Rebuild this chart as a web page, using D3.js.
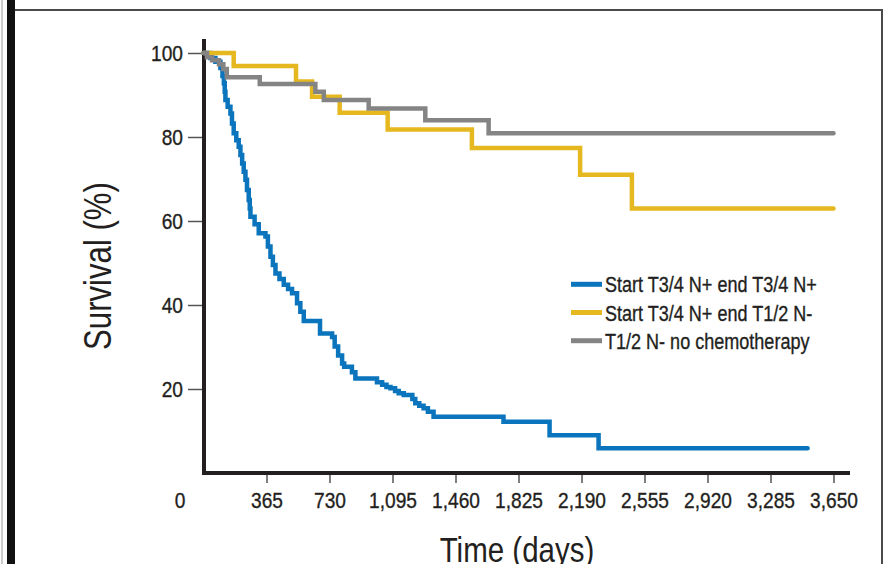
<!DOCTYPE html>
<html>
<head>
<meta charset="utf-8">
<script src="https://cdn.jsdelivr.net/npm/d3@7"></script>
<style>
  html, body { margin: 0; padding: 0; background: #ffffff; }
  svg { display: block; }
  text { font-family: "Liberation Sans", Arial, sans-serif; fill: #231f20; }
  .heavy { stroke: #231f20; stroke-width: 0.35px; }
</style>
</head>
<body>
<script>
// survival curves: [day of drop, survival % after drop]
var blueSteps = [
  [0, 100], [40, 98.8], [69, 97.9], [98, 96.4], [110, 94.5], [118, 92.8], [123, 90.8],
  [127, 88.8], [140, 87.2], [156, 85.6], [165, 83.2], [175, 80.9], [190, 79.2], [204, 77.7],
  [214, 75.7], [224, 73.7], [233, 71.7], [243, 69.8], [252, 67.4], [262, 65], [268, 63],
  [272, 61], [296, 59.2], [320, 57.1], [359, 56.3], [373, 53.9], [388, 51.5], [402, 49.5],
  [417, 47.5], [440, 46.2], [465, 44.8], [490, 43.8], [513, 42.8], [542, 40.4], [561, 38.4],
  [581, 36.2], [675, 33.2], [745, 32.4], [760, 30.1], [780, 28], [803, 26.1], [815, 25.3],
  [860, 24], [880, 22.5], [1005, 21.6], [1035, 21], [1060, 20.5], [1083, 20.2], [1110, 19.5],
  [1131, 19], [1160, 18.6], [1210, 17.6], [1227, 16.6], [1250, 16], [1275, 15.4], [1300, 14.6],
  [1333, 13.4], [1738, 12.2], [2005, 9.0], [2289, 5.9], [3500, 5.9]
]
var yellowSteps = [
  [0, 100], [175, 96.9], [536, 93.2], [629, 89.6], [789, 85.8], [1067, 81.8],
  [1555, 77.4], [2182, 71], [2482, 63], [3650, 63]
]
var graySteps = [
  [0, 100], [20, 99], [50, 98.3], [90, 97.3], [115, 96.2], [135, 94.2], [326, 92.6],
  [648, 90.8], [697, 88.8], [957, 86.8], [1285, 84], [1652, 80.9], [3650, 80.9]
]

var seriesNames = ["Start T3/4 N+ end T3/4 N+", "Start T3/4 N+ end T1/2 N-", "T1/2 N- no chemotherapy"]
var seriesColors = ["#0a74bd", "#e6b820", "#848484"]

var xTicks = [365, 730, 1095, 1460, 1825, 2190, 2555, 2920, 3285, 3650]
var yTicks = [20, 40, 60, 80, 100]

var svg_width = 886
var svg_height = 564
var narrow = 0.82      // squeeze text sideways, the figure uses a condensed face
var tickNarrow = 0.87  // the digits are a bit wider than the words

// narrow a text around its own x position
function condense(sel, k) {
  k = k || narrow
  sel.attr("transform", function() {
    var xv = +d3.select(this).attr("x") || 0
    return "translate(" + xv + ",0) scale(" + k + ",1) translate(" + (-xv) + ",0)"
  })
}

var svg = d3.select("body")
  .append("svg")
  .attr("width", svg_width)
  .attr("height", svg_height)

// page frame from the scanned figure
svg.append("rect")
  .attr("x", 7).attr("y", 0)
  .attr("width", 8).attr("height", svg_height)
  .attr("fill", "#111111")
svg.append("line")
  .attr("x1", 2).attr("y1", 0).attr("x2", 2).attr("y2", svg_height)
  .attr("stroke", "#9a9a9a").attr("stroke-width", 1)
svg.append("path")
  .attr("d", "M15,10H882V" + svg_height)
  .attr("fill", "none")
  .attr("stroke", "#4a4a4a")
  .attr("stroke-width", 2)

// scales
var x_scaling = d3.scaleLinear()
  .domain([0, 3650])
  .range([203.5, 833.5])

var y_scaling = d3.scaleLinear()
  .domain([0, 100])
  .range([473, 53])

// x axis
var x_axis = d3.axisBottom(x_scaling)
  .tickValues(xTicks)
  .tickSize(10)
  .tickPadding(8)
  .tickFormat(d3.format(","))

var gx = svg.append("g")
  .attr("class", "x axis")
  .attr("transform", "translate(0,473)")
  .call(x_axis)
gx.select(".domain").remove()
gx.selectAll(".tick line").attr("stroke", "#555555").attr("stroke-width", 1.5)
gx.selectAll(".tick text")
  .attr("class", "heavy")
  .attr("dy", null)
  .attr("y", 35)
  .style("font-size", "22px")
  .style("font-family", null)
  .attr("fill", "#231f20")
  .call(condense, tickNarrow)

// y axis
var y_axis = d3.axisLeft(y_scaling)
  .tickValues(yTicks)
  .tickSize(14)
  .tickPadding(5)

var gy = svg.append("g")
  .attr("class", "y axis")
  .attr("transform", "translate(202,0)")
  .call(y_axis)
gy.select(".domain").remove()
gy.selectAll(".tick line").attr("stroke", "#555555").attr("stroke-width", 1.5)
gy.selectAll(".tick text")
  .attr("class", "heavy")
  .attr("dy", "0.36em")
  .style("font-size", "22px")
  .style("font-family", null)
  .attr("fill", "#231f20")
  .call(condense, tickNarrow)

// shared origin label
svg.append("text")
  .attr("class", "heavy")
  .attr("x", 180)
  .attr("y", 508)
  .attr("text-anchor", "middle")
  .style("font-size", "22px")
  .text("0")
  .call(condense, tickNarrow)

// axis lines drawn thick like the figure
svg.append("path")
  .attr("d", "M204,39V473H850")
  .attr("fill", "none")
  .attr("stroke", "#231f20")
  .attr("stroke-width", 4)

// survival step curves
var line = d3.line()
  .x(function(d) { return x_scaling(d[0]) })
  .y(function(d) { return y_scaling(d[1]) })
  .curve(d3.curveStepAfter)

var allSeries = [blueSteps, yellowSteps, graySteps]
svg.selectAll(".curve")
  .data(allSeries)
  .enter()
  .append("path")
  .attr("class", "curve")
  .attr("d", line)
  .attr("fill", "none")
  .attr("stroke", function(d, i) { return seriesColors[i] })
  .attr("stroke-width", 4.5)
  .attr("stroke-linecap", "round")
  .attr("stroke-linejoin", "miter")

// legend
var legend = svg.selectAll(".legend")
  .data(seriesNames)
  .enter()
  .append("g")
  .attr("class", "legend")
  .attr("transform", function(d, i) { return "translate(571," + (284.3 + i * 28.2) + ")" })

legend.append("line")
  .attr("x1", 0).attr("x2", 31)
  .attr("stroke", function(d, i) { return seriesColors[i] })
  .attr("stroke-width", 5)

legend.append("text")
  .attr("class", "heavy")
  .attr("x", 34)
  .attr("y", 8)
  .style("font-size", "22px")
  .text(function(d) { return d })
  .call(condense)

// axis titles
svg.append("text")
  .attr("transform", "translate(111,266) rotate(-90) scale(" + narrow + ",1)")
  .attr("text-anchor", "middle")
  .style("font-size", "38px")
  .text("Survival (%)")

svg.append("text")
  .attr("x", 517)
  .attr("y", 562)
  .attr("text-anchor", "middle")
  .style("font-size", "36px")
  .text("Time (days)")
  .call(condense)
</script>
</body>
</html>
